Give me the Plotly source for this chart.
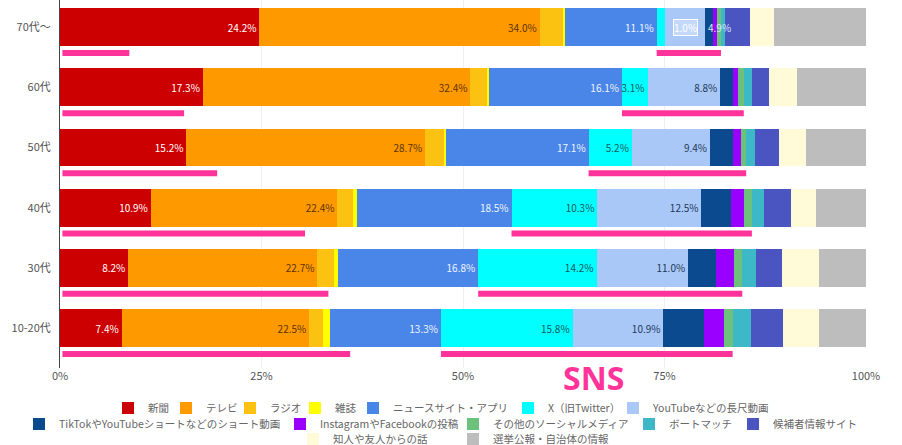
import plotly.graph_objects as go

# age groups, bottom to top
ages = ["10-20代", "30代", "40代", "50代", "60代", "70代〜"]

sources = [
    "新聞", "テレビ", "ラジオ", "雑誌", "ニュースサイト・アプリ", "X（旧Twitter）",
    "YouTubeなどの長尺動画", "TikTokやYouTubeショートなどのショート動画",
    "InstagramやFacebookの投稿", "その他のソーシャルメディア", "ボートマッチ",
    "候補者情報サイト", "知人や友人からの話", "選挙公報・自治体の情報",
]

colors = [
    "#cc0000", "#ff9900", "#fbc212", "#ffff00", "#4a86e8", "#00ffff",
    "#a9c8f7", "#0b4a8f", "#9900ff", "#6cc27a", "#3db8c6",
    "#4a55c2", "#fffbd8", "#bdbdbd",
]

label_colors = ["#ffffff", "#5a3500", None, None, "#eef4ff", "#145a5a", "#22385a",
                None, None, None, None, None, None, None]

# values per source, rows follow `ages`
shinbun  = [7.4, 8.2, 10.9, 15.2, 17.3, 24.2]
tv       = [22.5, 22.7, 22.4, 28.7, 32.4, 34.0]
radio    = [1.6, 2.0, 1.85, 2.3, 2.0, 2.8]
zasshi   = [0.9, 0.5, 0.55, 0.25, 0.25, 0.3]
news     = [13.3, 16.8, 18.5, 17.1, 16.1, 11.1]
x_tw     = [15.8, 14.2, 10.3, 5.2, 3.1, 1.0]
yt_long  = [10.9, 11.0, 12.5, 9.4, 8.8, 4.9]
short    = [4.9, 3.3, 3.6, 2.8, 1.6, 0.9]
insta    = [2.4, 2.2, 1.55, 0.9, 0.55, 0.5]
other    = [1.0, 1.0, 0.9, 0.65, 0.7, 0.5]
vote     = [2.2, 1.6, 1.4, 1.1, 1.0, 0.5]
cand     = [3.9, 3.2, 3.3, 2.9, 2.1, 3.0]
friends  = [4.3, 4.4, 3.0, 3.2, 3.3, 2.9]
koho     = [5.6, 5.65, 6.0, 7.2, 8.4, 11.2]

series = [shinbun, tv, radio, zasshi, news, x_tw, yt_long, short,
          insta, other, vote, cand, friends, koho]
labelled = {0, 1, 4, 5, 6}

# hand-drawn highlight under the traditional media (end, in %)
old_media_mark = [36.0, 33.3, 30.4, 19.5, 15.4, 8.6]

# legend layout: left edge of each swatch (px) and row centre (px)
legend_x = [122, 180, 244, 309, 367, 522, 627,
            33, 294, 467, 643, 747,
            307, 467]
legend_y = [408] * 7 + [424] * 5 + [439] * 2

pink = "#ff3399"
W, H = 902, 445

fig = go.Figure()
for i, (name, vals) in enumerate(zip(sources, series)):
    text = [f"{v:.1f}%" for v in vals] if i in labelled else None
    if text and i in (5, 6):
        text[-1] = ""  # 70代 small labels drawn separately
    fig.add_trace(go.Bar(
        y=ages, x=vals, name=name, orientation="h",
        marker=dict(color=colors[i], line=dict(width=0)),
        text=text, textposition="inside" if text else "none",
        insidetextanchor="end", textangle=0,
        textfont=dict(color=label_colors[i] or "#333", size=10,
                      family="Noto Sans CJK JP"),
        legend="legend" if i == 0 else f"legend{i + 1}",
        showlegend=True,
        hoverinfo="skip",
    ))

# pink underline marks, normalised to 100% like the bars
for r, age in enumerate(ages):
    total = sum(s[r] for s in series)
    sns_start = sum(s[r] for s in series[:5]) / total * 100
    sns_end = sum(s[r] for s in series[:10]) / total * 100
    for x0, x1 in [(0.3, old_media_mark[r]), (sns_start, sns_end)]:
        fig.add_shape(type="line", xref="x", yref="y",
                      x0=x0, x1=x1, y0=r - 0.43, y1=r - 0.43,
                      line=dict(color=pink, width=6))

# the crowded 70代 labels for X and YouTube
r = len(ages) - 1
total = sum(s[r] for s in series)
yt_end = sum(s[r] for s in series[:7]) / total * 100
fig.add_annotation(text=f"{x_tw[r]:.1f}%", x=yt_end - 0.9, y=ages[r],
                   xanchor="right", showarrow=False, bgcolor="#c4d8fa",
                   bordercolor="#ffffff", borderwidth=1, borderpad=0,
                   font=dict(color="#ffffff", size=10, family="Noto Sans CJK JP"))
fig.add_annotation(text=f"{yt_long[r]:.1f}%", x=yt_end + 0.1, y=ages[r],
                   xanchor="left", showarrow=False,
                   font=dict(color="#dfe9fb", size=10, family="Noto Sans CJK JP"))

fig.add_annotation(text="<b>SNS</b>", x=66.2, y=-0.027, xref="x", yref="paper",
                   yanchor="middle", showarrow=False,
                   font=dict(color=pink, size=32, family="Noto Sans"))

legends = {}
for i in range(len(sources)):
    key = "legend" if i == 0 else f"legend{i + 1}"
    legends[key] = dict(
        orientation="h", xref="container", yref="container",
        xanchor="left", yanchor="middle",
        x=(legend_x[i] - 14) / W, y=1 - legend_y[i] / H,
        font=dict(size=10.5, color="#666", family="Noto Sans CJK JP"),
        bgcolor="rgba(0,0,0,0)", itemwidth=30,
    )

fig.update_layout(
    barmode="stack", barnorm="percent", bargap=0.37,
    width=W, height=H, showlegend=True,
    margin=dict(l=60, r=36, t=0, b=77, autoexpand=False),
    plot_bgcolor="white", paper_bgcolor="white",
    font=dict(family="Noto Sans CJK JP", color="#555"),
    uniformtext=dict(minsize=10, mode="show"),
    xaxis=dict(range=[0, 100], tickvals=[0, 25, 50, 75, 100],
               ticktext=["0%", "25%", "50%", "75%", "100%"],
               showgrid=True, gridcolor="#f0f0f0", zeroline=False,
               automargin=False, tickfont=dict(size=11, color="#555")),
    yaxis=dict(range=[-0.664, 5.45], showline=True, linecolor="#444",
               linewidth=1, ticks="", ticklabelstandoff=6, automargin=False,
               tickfont=dict(size=11, color="#555")),
    **legends,
)

fig.write_html("out.html", config={"displayModeBar": False},
               post_script="document.body.style.margin='0';")
